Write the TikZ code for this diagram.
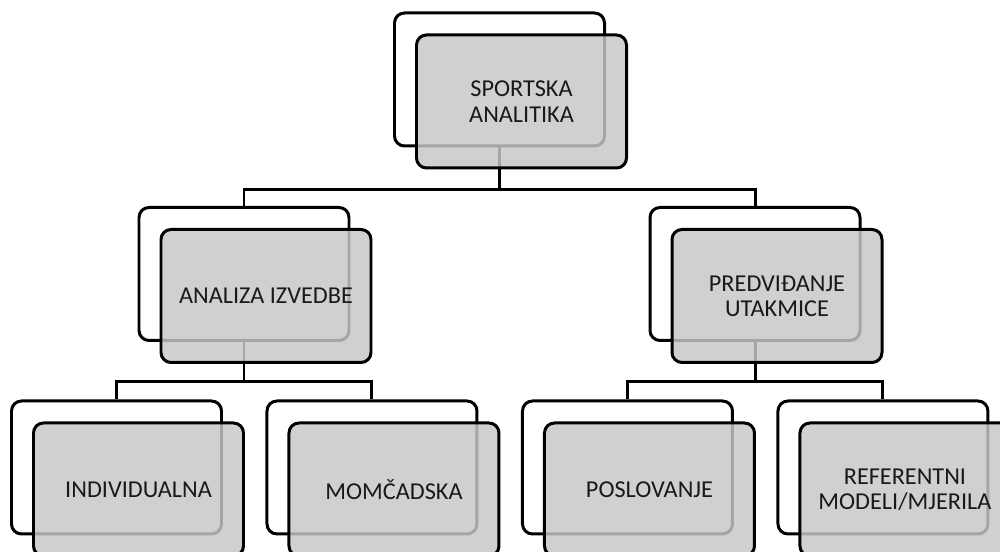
\documentclass[tikz,border=0pt]{standalone}
\usepackage{fontspec}
\setmainfont{Carlito}
\usetikzlibrary{calc,positioning,backgrounds}
\definecolor{boxgray}{RGB}{199,199,199}

\begin{document}
\begin{tikzpicture}[line width=1.7pt, node distance=8.5mm,
        back/.style={rectangle, rounded corners=2mm, draw=black, fill=white,
        minimum width=42mm, minimum height=26.6mm},
        front/.style={rectangle, rounded corners=2mm, draw=black, fill=boxgray,
        fill opacity=0.83, text opacity=1, text=black!90, align=center,
        minimum width=42mm, minimum height=26.6mm,
        font=\fontsize{13.8}{14.4}\selectfont},
        link/.style={draw=black, line width=1.7pt}]
        \useasboundingbox (0,0) rectangle (20,11.04);
        % back boxes
        \node[back] (sa) at (9.99,9.45) {};
        \node[back] (ai) at (4.88,5.56) {};
        \node[back] (pu) at (15.1,5.56) {};
        \node[back] (ind) at (2.33,1.69) {};
        \node[back, right=of ind] (mom) {};
        \node[back, right=of mom] (pos) {};
        \node[back, right=of pos] (ref) {};
        % connectors
        \begin{scope}[on background layer]
          \draw[link] (sa.south) -- ++(0,-0.84) -| (ai.north);
          \draw[link] (sa.south) -- ++(0,-0.84) -| (pu.north);
          \draw[link] (ai.south) -- ++(0,-0.8) -| (ind.north);
          \draw[link] (ai.south) -- ++(0,-0.8) -| (mom.north);
          \draw[link] (pu.south) -- ++(0,-0.8) -| (pos.north);
          \draw[link] (pu.south) -- ++(0,-0.8) -| (ref.north);
        \end{scope}
        % front boxes
        \node[front] (saf) at ($(sa)+(0.44,-0.44)$) {SPORTSKA\\ANALITIKA};
        \node[front] (aif) at ($(ai)+(0.44,-0.44)$) {ANALIZA IZVEDBE};
        \node[front] (puf) at ($(pu)+(0.44,-0.44)$) {PREDVIĐANJE\\UTAKMICE};
        \node[front] (indf) at ($(ind)+(0.44,-0.44)$) {INDIVIDUALNA};
        \node[front] (momf) at ($(mom)+(0.44,-0.44)$) {MOMČADSKA};
        \node[front] (posf) at ($(pos)+(0.44,-0.44)$) {POSLOVANJE};
        \node[front] (reff) at ($(ref)+(0.44,-0.44)$) {REFERENTNI\\MODELI/MJERILA};
      \end{tikzpicture}
\end{document}
